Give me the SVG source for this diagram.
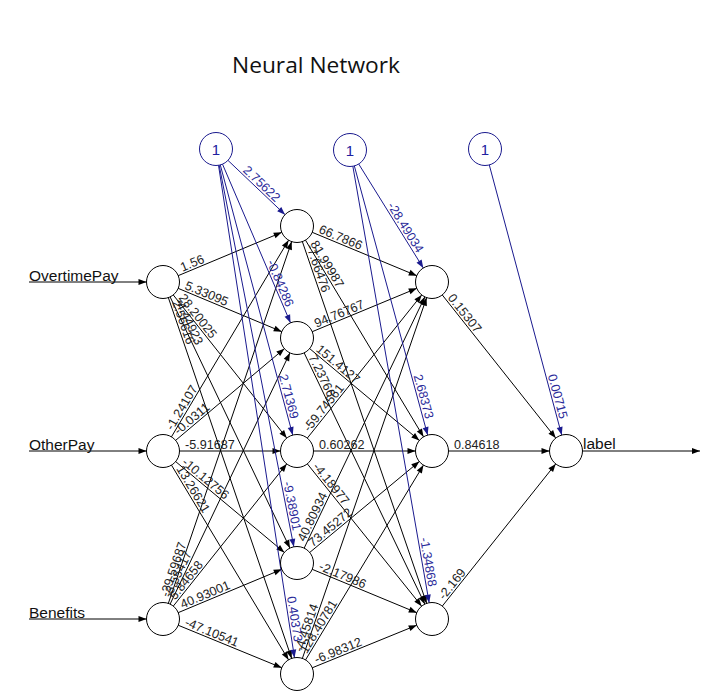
<svg xmlns="http://www.w3.org/2000/svg" width="708" height="700" viewBox="0 0 708 700">
<style>
.e{stroke:#000;stroke-width:1;fill:none}
.b{stroke:#1a1a8e;stroke-width:1;fill:none}
.n circle{fill:#fff;stroke:#000;stroke-width:1}
.bn circle{fill:#fff;stroke:#1a1a8e;stroke-width:1}
.bn text{font-family:"Liberation Sans",Arial,sans-serif;font-size:15px;fill:#2020a0;text-anchor:middle}
.w{font-family:"Liberation Sans",Arial,sans-serif;font-size:12.6px;fill:#222}
.wb{font-family:"Liberation Sans",Arial,sans-serif;font-size:12.6px;fill:#2a2a9a;text-anchor:end}
.lab{font-family:"Liberation Sans",Arial,sans-serif;font-size:15.5px;fill:#111}
</style>
<defs>
<marker id="ah" markerUnits="userSpaceOnUse" orient="auto" overflow="visible" refX="0" refY="0" markerWidth="1" markerHeight="1"><path d="M-16.5,0 L-24.5,-3 L-24.5,3 z" fill="#000"/></marker>
<marker id="ahb" markerUnits="userSpaceOnUse" orient="auto" overflow="visible" refX="0" refY="0" markerWidth="1" markerHeight="1"><path d="M-16.5,0 L-24.5,-3 L-24.5,3 z" fill="#1a1a8e"/></marker>
<marker id="ae" markerUnits="userSpaceOnUse" orient="auto" overflow="visible" refX="0" refY="0" markerWidth="1" markerHeight="1"><path d="M0,0 L-8,-3 L-8,3 z" fill="#000"/></marker>
</defs>
<rect width="708" height="700" fill="#fff"/>
<text x="232" y="73" font-family="'Open Sans','Noto Sans',sans-serif" font-size="22" textLength="168" lengthAdjust="spacingAndGlyphs" fill="#111">Neural Network</text>

<g id="connectors">
<line class="e" x1="29" y1="282" x2="163" y2="282" marker-end="url(#ah)"/>
<line class="e" x1="29" y1="451" x2="163" y2="451" marker-end="url(#ah)"/>
<line class="e" x1="29" y1="619" x2="163" y2="619" marker-end="url(#ah)"/>
<line class="e" x1="566" y1="451" x2="700" y2="451" marker-end="url(#ae)"/>
<!-- input to hidden1 -->
<line class="e" x1="163" y1="282" x2="297" y2="226" marker-end="url(#ah)"/>
<line class="e" x1="163" y1="282" x2="297" y2="338" marker-end="url(#ah)"/>
<line class="e" x1="163" y1="282" x2="297" y2="451" marker-end="url(#ah)"/>
<line class="e" x1="163" y1="282" x2="297" y2="563" marker-end="url(#ah)"/>
<line class="e" x1="163" y1="282" x2="297" y2="674" marker-end="url(#ah)"/>
<line class="e" x1="163" y1="451" x2="297" y2="226" marker-end="url(#ah)"/>
<line class="e" x1="163" y1="451" x2="297" y2="338" marker-end="url(#ah)"/>
<line class="e" x1="163" y1="451" x2="297" y2="451" marker-end="url(#ah)"/>
<line class="e" x1="163" y1="451" x2="297" y2="563" marker-end="url(#ah)"/>
<line class="e" x1="163" y1="451" x2="297" y2="674" marker-end="url(#ah)"/>
<line class="e" x1="163" y1="619" x2="297" y2="226" marker-end="url(#ah)"/>
<line class="e" x1="163" y1="619" x2="297" y2="338" marker-end="url(#ah)"/>
<line class="e" x1="163" y1="619" x2="297" y2="451" marker-end="url(#ah)"/>
<line class="e" x1="163" y1="619" x2="297" y2="563" marker-end="url(#ah)"/>
<line class="e" x1="163" y1="619" x2="297" y2="674" marker-end="url(#ah)"/>
<!-- hidden1 to hidden2 -->
<line class="e" x1="297" y1="226" x2="432" y2="282" marker-end="url(#ah)"/>
<line class="e" x1="297" y1="226" x2="432" y2="451" marker-end="url(#ah)"/>
<line class="e" x1="297" y1="226" x2="432" y2="619" marker-end="url(#ah)"/>
<line class="e" x1="297" y1="338" x2="432" y2="282" marker-end="url(#ah)"/>
<line class="e" x1="297" y1="338" x2="432" y2="451" marker-end="url(#ah)"/>
<line class="e" x1="297" y1="338" x2="432" y2="619" marker-end="url(#ah)"/>
<line class="e" x1="297" y1="451" x2="432" y2="282" marker-end="url(#ah)"/>
<line class="e" x1="297" y1="451" x2="432" y2="451" marker-end="url(#ah)"/>
<line class="e" x1="297" y1="451" x2="432" y2="619" marker-end="url(#ah)"/>
<line class="e" x1="297" y1="563" x2="432" y2="282" marker-end="url(#ah)"/>
<line class="e" x1="297" y1="563" x2="432" y2="451" marker-end="url(#ah)"/>
<line class="e" x1="297" y1="563" x2="432" y2="619" marker-end="url(#ah)"/>
<line class="e" x1="297" y1="674" x2="432" y2="282" marker-end="url(#ah)"/>
<line class="e" x1="297" y1="674" x2="432" y2="451" marker-end="url(#ah)"/>
<line class="e" x1="297" y1="674" x2="432" y2="619" marker-end="url(#ah)"/>
<!-- hidden2 to output -->
<line class="e" x1="432" y1="282" x2="566" y2="451" marker-end="url(#ah)"/>
<line class="e" x1="432" y1="451" x2="566" y2="451" marker-end="url(#ah)"/>
<line class="e" x1="432" y1="619" x2="566" y2="451" marker-end="url(#ah)"/>
<!-- bias edges -->
<line class="b" x1="216" y1="149" x2="297" y2="226" marker-end="url(#ahb)"/>
<line class="b" x1="216" y1="149" x2="297" y2="338" marker-end="url(#ahb)"/>
<line class="b" x1="216" y1="149" x2="297" y2="451" marker-end="url(#ahb)"/>
<line class="b" x1="216" y1="149" x2="297" y2="563" marker-end="url(#ahb)"/>
<line class="b" x1="216" y1="149" x2="297" y2="674" marker-end="url(#ahb)"/>
<line class="b" x1="350" y1="150" x2="432" y2="282" marker-end="url(#ahb)"/>
<line class="b" x1="350" y1="150" x2="432" y2="451" marker-end="url(#ahb)"/>
<line class="b" x1="350" y1="150" x2="432" y2="619" marker-end="url(#ahb)"/>
<line class="b" x1="485" y1="149" x2="566" y2="451" marker-end="url(#ahb)"/>
</g>

<g id="weights">
<text class="w" transform="translate(163 282) rotate(-22.7)" x="22" y="-2">1.56</text>
<text class="w" transform="translate(163 282) rotate(22.7)" x="22" y="-2">5.33095</text>
<text class="w" transform="translate(163 282) rotate(51.6)" x="22" y="-2">28.20025</text>
<text class="w" transform="translate(163 282) rotate(64.5)" x="22" y="-2">-4.44923</text>
<text class="w" transform="translate(163 282) rotate(71.1)" x="22" y="-2">2.56616</text>
<text class="w" transform="translate(163 451) rotate(-59.2)" x="22" y="-2">-1.24107</text>
<text class="w" transform="translate(163 451) rotate(-40.1)" x="22" y="-2">-0.0311</text>
<text class="w" transform="translate(163 451)" x="22" y="-2">-5.91687</text>
<text class="w" transform="translate(163 451) rotate(39.9)" x="22" y="-2">-10.12756</text>
<text class="w" transform="translate(163 451) rotate(59)" x="22" y="-2">13.26621</text>
<text class="w" transform="translate(163 619) rotate(-71.2)" x="22" y="-2">-29.59687</text>
<text class="w" transform="translate(163 619) rotate(-64.5)" x="22" y="-2">-3.55417</text>
<text class="w" transform="translate(163 619) rotate(-51.4)" x="22" y="-2">5.84658</text>
<text class="w" transform="translate(163 619) rotate(-22.7)" x="22" y="-2">40.93001</text>
<text class="w" transform="translate(163 619) rotate(22.3)" x="22" y="-2">-47.10541</text>
<text class="w" transform="translate(297 226) rotate(22.5)" x="22" y="-2">66.7866</text>
<text class="w" transform="translate(297 226) rotate(59)" x="22" y="-2">81.99987</text>
<text class="w" transform="translate(297 226) rotate(71)" x="22" y="-2">-7.66476</text>
<text class="w" transform="translate(297 338) rotate(-22.5)" x="22" y="-2">94.76767</text>
<text class="w" transform="translate(297 338) rotate(39.9)" x="22" y="-2">151.4127</text>
<text class="w" transform="translate(297 338) rotate(64.3)" x="22" y="-2">7.23766</text>
<text class="w" transform="translate(297 451) rotate(-51.4)" x="22" y="-2">-59.74561</text>
<text class="w" transform="translate(297 451)" x="22" y="-2">0.60262</text>
<text class="w" transform="translate(297 451) rotate(51.2)" x="22" y="-2">-4.18977</text>
<text class="w" transform="translate(297 563) rotate(-64.3)" x="22" y="-2">40.80934</text>
<text class="w" transform="translate(297 563) rotate(-39.7)" x="22" y="-2">73.45272</text>
<text class="w" transform="translate(297 563) rotate(22.5)" x="22" y="-2">-2.17986</text>
<text class="w" transform="translate(297 674) rotate(-71)" x="22" y="-2">-4.45814</text>
<text class="w" transform="translate(297 674) rotate(-58.8)" x="22" y="-2">128.40781</text>
<text class="w" transform="translate(297 674) rotate(-22.2)" x="22" y="-2">-6.98312</text>
<text class="w" transform="translate(432 282) rotate(51.6)" x="22" y="-2">0.15307</text>
<text class="w" transform="translate(432 451)" x="22" y="-2">0.84618</text>
<text class="w" transform="translate(432 619) rotate(-51.4)" x="22" y="-2">-2.169</text>
<text class="wb" transform="translate(297 226) rotate(43.6)" x="-32" y="-2">2.75622</text>
<text class="wb" transform="translate(297 338) rotate(66.8)" x="-32" y="-2">-0.84286</text>
<text class="wb" transform="translate(297 451) rotate(75)" x="-32" y="-2">2.71369</text>
<text class="wb" transform="translate(297 563) rotate(78.9)" x="-32" y="-2">-9.38901</text>
<text class="wb" transform="translate(297 674) rotate(81.2)" x="-32" y="-2">0.40373</text>
<text class="wb" transform="translate(432 282) rotate(58.2)" x="-32" y="-2">-28.49034</text>
<text class="wb" transform="translate(432 451) rotate(74.8)" x="-32" y="-2">2.68373</text>
<text class="wb" transform="translate(432 619) rotate(80.1)" x="-32" y="-2">-1.34868</text>
<text class="wb" transform="translate(566 451) rotate(75)" x="-32" y="-2">0.00715</text>
</g>

<g id="in_OvertimePay" class="n"><circle cx="163" cy="282" r="16.5"/><text class="lab" x="29" y="280.5">OvertimePay</text></g>
<g id="in_OtherPay" class="n"><circle cx="163" cy="451" r="16.5"/><text class="lab" x="29" y="449.5">OtherPay</text></g>
<g id="in_Benefits" class="n"><circle cx="163" cy="619" r="16.5"/><text class="lab" x="29" y="617.5">Benefits</text></g>
<g id="bias1" class="bn"><circle cx="216" cy="149" r="16.5"/><text x="216" y="154.5">1</text></g>
<g id="bias2" class="bn"><circle cx="350" cy="150" r="16.5"/><text x="350" y="155.5">1</text></g>
<g id="bias3" class="bn"><circle cx="485" cy="149" r="16.5"/><text x="485" y="154.5">1</text></g>
<g id="h1_1" class="n"><circle cx="297" cy="226" r="16.5"/></g>
<g id="h1_2" class="n"><circle cx="297" cy="338" r="16.5"/></g>
<g id="h1_3" class="n"><circle cx="297" cy="451" r="16.5"/></g>
<g id="h1_4" class="n"><circle cx="297" cy="563" r="16.5"/></g>
<g id="h1_5" class="n"><circle cx="297" cy="674" r="16.5"/></g>
<g id="h2_1" class="n"><circle cx="432" cy="282" r="16.5"/></g>
<g id="h2_2" class="n"><circle cx="432" cy="451" r="16.5"/></g>
<g id="h2_3" class="n"><circle cx="432" cy="619" r="16.5"/></g>
<g id="out_label" class="n"><circle cx="566" cy="451" r="16.5"/><text class="lab" x="583" y="449">label</text></g>
</svg>
